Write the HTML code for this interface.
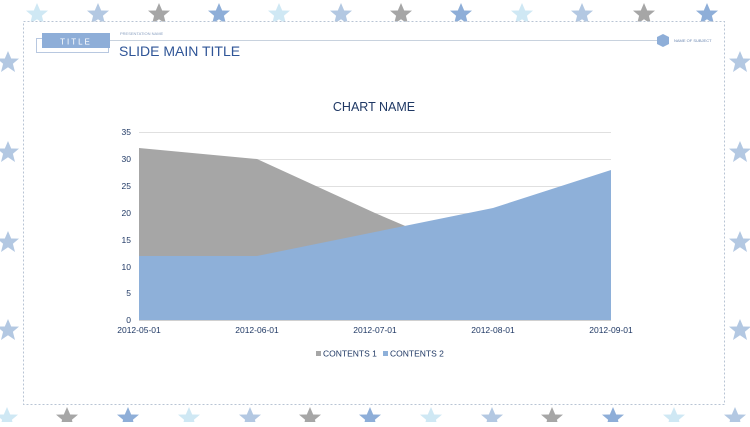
<!DOCTYPE html>
<html><head><meta charset="utf-8"><style>
body{margin:0;width:750px;height:422px;overflow:hidden;background:#fff;font-family:"Liberation Sans","Noto Sans CJK KR",sans-serif;}
</style></head><body>
<svg width="750" height="422" viewBox="0 0 750 422" xmlns="http://www.w3.org/2000/svg" font-family="Liberation Sans, Noto Sans CJK KR, sans-serif">
<defs><polygon id="st" points="0,-11 3.2,-3.5 11,-3.4 4.9,1.8 7,10 0,5.3 -7,10 -4.9,1.8 -11,-3.4 -3.2,-3.5"/></defs>
<g>
<use href="#st" x="37" y="14" fill="#cfe8f4"/><use href="#st" x="98" y="14" fill="#b3c8e2"/><use href="#st" x="159" y="14" fill="#a6a6a6"/><use href="#st" x="219" y="14" fill="#8eaed8"/>
<use href="#st" x="279" y="14" fill="#cfe8f4"/><use href="#st" x="341" y="14" fill="#b3c8e2"/><use href="#st" x="401" y="14" fill="#a6a6a6"/><use href="#st" x="461" y="14" fill="#8eaed8"/>
<use href="#st" x="522" y="14" fill="#cfe8f4"/><use href="#st" x="582" y="14" fill="#b3c8e2"/><use href="#st" x="644" y="14" fill="#a6a6a6"/><use href="#st" x="707" y="14" fill="#8eaed8"/>
<use href="#st" x="7" y="418" fill="#cfe8f4"/><use href="#st" x="67" y="418" fill="#a6a6a6"/><use href="#st" x="128" y="418" fill="#8eaed8"/><use href="#st" x="189" y="418" fill="#cfe8f4"/>
<use href="#st" x="250" y="418" fill="#b3c8e2"/><use href="#st" x="310" y="418" fill="#a6a6a6"/><use href="#st" x="370" y="418" fill="#8eaed8"/><use href="#st" x="431" y="418" fill="#cfe8f4"/>
<use href="#st" x="492" y="418" fill="#b3c8e2"/><use href="#st" x="552" y="418" fill="#a6a6a6"/><use href="#st" x="613" y="418" fill="#8eaed8"/><use href="#st" x="674" y="418" fill="#cfe8f4"/><use href="#st" x="735" y="418" fill="#b3c8e2"/>
<use href="#st" x="8" y="62" fill="#b3c8e2"/><use href="#st" x="8" y="152" fill="#b3c8e2"/><use href="#st" x="8" y="242" fill="#b3c8e2"/><use href="#st" x="8" y="330" fill="#b3c8e2"/>
<use href="#st" x="740" y="62" fill="#b3c8e2"/><use href="#st" x="740" y="152" fill="#b3c8e2"/><use href="#st" x="740" y="242" fill="#b3c8e2"/><use href="#st" x="740" y="330" fill="#b3c8e2"/>
</g>
<rect x="23.5" y="21.5" width="701" height="383" fill="#fff" stroke="#b8c4d4" stroke-dasharray="2,2"/>
<!-- header -->
<rect x="36.5" y="38.5" width="72" height="14" fill="#fff" stroke="#b8c8e0"/>
<rect x="42" y="33" width="68" height="15" fill="#8eaed8"/>
<text x="76" y="44.5" fill="#fff" font-size="8" text-anchor="middle" letter-spacing="2">TITLE</text>
<line x1="110" y1="40.5" x2="660" y2="40.5" stroke="#c8d2de"/>
<polygon points="663,34 669,37 669,44 663,47 657,44 657,37" fill="#8eaed8"/>
<text x="674" y="42" font-size="4" fill="#6a86b0">NAME OF SUBJECT</text>
<text x="120" y="35" font-size="4" fill="#8aa0c0">PRESENTATION NAME</text>
<text x="119" y="56" font-size="14" fill="#2f5597">SLIDE MAIN TITLE</text>
<text x="374" y="111" font-size="12.5" fill="#1f3864" text-anchor="middle">CHART NAME</text>
<!-- grid -->
<g stroke="#e0e0e0" stroke-width="1">
<line x1="139" y1="132.5" x2="611" y2="132.5"/><line x1="139" y1="159.5" x2="611" y2="159.5"/><line x1="139" y1="186.5" x2="611" y2="186.5"/><line x1="139" y1="213.5" x2="611" y2="213.5"/><line x1="139" y1="240.5" x2="611" y2="240.5"/><line x1="139" y1="267.5" x2="611" y2="267.5"/><line x1="139" y1="293.5" x2="611" y2="293.5"/>
</g>
<polygon points="139,320 139,148 257,159 375,213 410,228 410,320" fill="#a6a6a6"/>
<polygon points="139,320 139,256 257,256 375,232 493,208 611,170 611,320" fill="#8eb0d9"/>
<line x1="139" y1="320.5" x2="611" y2="320.5" stroke="#d0d0d0"/>
<g font-size="8.5" fill="#1f3864" text-anchor="end">
<text x="131" y="135">35</text><text x="131" y="162">30</text><text x="131" y="189">25</text><text x="131" y="216">20</text><text x="131" y="243">15</text><text x="131" y="270">10</text><text x="131" y="296">5</text><text x="131" y="323">0</text>
</g>
<g font-size="8.5" fill="#1f3864" text-anchor="middle">
<text x="139" y="333">2012-05-01</text><text x="257" y="333">2012-06-01</text><text x="375" y="333">2012-07-01</text><text x="493" y="333">2012-08-01</text><text x="611" y="333">2012-09-01</text>
</g>
<rect x="316" y="351" width="5" height="5" fill="#a6a6a6"/>
<text x="323" y="356.5" font-size="8.5" fill="#1f3864">CONTENTS 1</text>
<rect x="383" y="351" width="5" height="5" fill="#8eb0d9"/>
<text x="390" y="356.5" font-size="8.5" fill="#1f3864">CONTENTS 2</text>
</svg>
</body></html>
